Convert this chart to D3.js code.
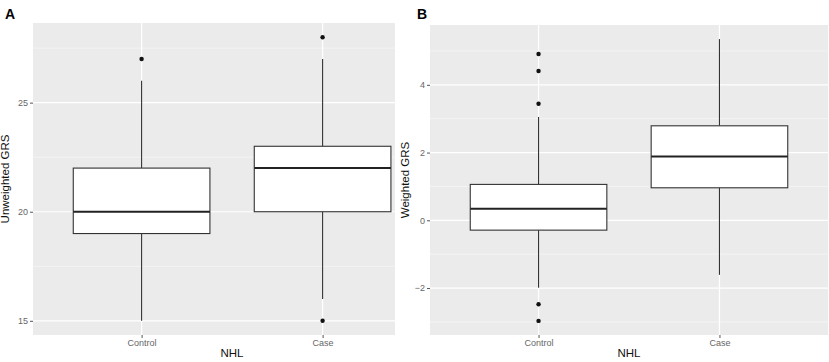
<!DOCTYPE html>
<html>
<head>
<meta charset="utf-8">
<script src="https://cdn.jsdelivr.net/npm/d3@7"></script>
<style>
  body { margin: 0; background: #fff; }
  svg { display: block; font-family: "Liberation Sans", Arial, sans-serif; }
</style>
</head>
<body>
<div id="chart"></div>
<script>
// Data

var groups = ["Control", "Case"];

// panel A: unweighted GRS (min, q1, median, q3, max whisker)
var unweightedStats = [
  [15, 19, 20, 22, 26],
  [16, 20, 22, 23, 27]
];
var unweightedOutliers = [[27], [28, 15]];
var unweightedTicks = [15, 20, 25];

// panel B: weighted GRS
var weightedStats = [
  [-1.99, -0.29, 0.34, 1.06, 3.05],
  [-1.61, 0.96, 1.885, 2.79, 5.35]
];
var weightedOutliers = [[4.91, 4.41, 3.44, -2.48, -2.97], []];
var weightedTicks = [-2, 0, 2, 4];

var w = 829;
var h = 362;

var svg = d3.select("#chart")
  .append("svg")
    .attr("width", w)
    .attr("height", h);

function panel(opt) {
  var g = svg.append("g");

  var xScale = d3.scaleLinear()
    .domain(opt.xdomain)
    .range([opt.left, opt.right]);

  // ggplot style 5% expansion
  var lo = d3.min(opt.stats, d => d[0]);
  var hi = d3.max(opt.stats, d => d[4]);
  opt.outliers.forEach(o => { lo = Math.min(lo, d3.min(o) ?? lo); hi = Math.max(hi, d3.max(o) ?? hi); });
  var pad = (hi - lo) * 0.05;
  var yScale = d3.scaleLinear()
    .domain([lo - pad, hi + pad])
    .range([opt.bottom, opt.top]);

  g.append("rect")
    .attr("x", opt.left)
    .attr("y", opt.top)
    .attr("width", opt.right - opt.left)
    .attr("height", opt.bottom - opt.top)
    .attr("fill", "#ebebeb");

  // minor grid
  var step = opt.ticks[1] - opt.ticks[0];
  var minor = [opt.ticks[0] - step / 2].concat(opt.ticks.map(t => t + step / 2))
    .filter(v => v > yScale.domain()[0] && v < yScale.domain()[1]);
  g.selectAll(".minor")
    .data(minor)
    .enter()
    .append("line")
    .attr("x1", opt.left)
    .attr("x2", opt.right)
    .attr("y1", d => yScale(d))
    .attr("y2", d => yScale(d))
    .attr("stroke", "#fafafa")
    .attr("stroke-width", 0.6);

  g.selectAll(".major")
    .data(opt.ticks)
    .enter()
    .append("line")
    .attr("x1", opt.left)
    .attr("x2", opt.right)
    .attr("y1", d => yScale(d))
    .attr("y2", d => yScale(d))
    .attr("stroke", "#fff")
    .attr("stroke-width", 1.2);

  g.selectAll(".vgrid")
    .data(groups)
    .enter()
    .append("line")
    .attr("x1", (d, i) => xScale(i + 1))
    .attr("x2", (d, i) => xScale(i + 1))
    .attr("y1", opt.top)
    .attr("y2", opt.bottom)
    .attr("stroke", "#fff")
    .attr("stroke-width", 1.2);

  // axes
  var yAxis = d3.axisLeft(yScale)
    .tickValues(opt.ticks)
    .tickSize(3)
    .tickPadding(2);
  var ya = g.append("g")
    .attr("transform", `translate(${opt.left},0)`)
    .call(yAxis);
  ya.select(".domain").remove();
  ya.selectAll("line").attr("stroke", "#555");
  ya.selectAll("text").attr("fill", "#666").attr("font-size", 9);

  var xAxis = d3.axisBottom(xScale)
    .tickValues([1, 2])
    .tickFormat((d, i) => groups[i])
    .tickSize(3)
    .tickPadding(2);
  var xa = g.append("g")
    .attr("transform", `translate(0,${opt.bottom})`)
    .call(xAxis);
  xa.select(".domain").remove();
  xa.selectAll("line").attr("stroke", "#555");
  xa.selectAll("text").attr("fill", "#666").attr("font-size", 9);

  // boxes
  var bw = 0.755;
  var boxes = g.selectAll(".box")
    .data(opt.stats)
    .enter()
    .append("g");

  boxes.append("line")
    .attr("x1", (d, i) => xScale(i + 1))
    .attr("x2", (d, i) => xScale(i + 1))
    .attr("y1", d => yScale(d[0]))
    .attr("y2", d => yScale(d[1]))
    .attr("stroke", "#333")
    .attr("stroke-width", 1.1);

  boxes.append("line")
    .attr("x1", (d, i) => xScale(i + 1))
    .attr("x2", (d, i) => xScale(i + 1))
    .attr("y1", d => yScale(d[3]))
    .attr("y2", d => yScale(d[4]))
    .attr("stroke", "#333")
    .attr("stroke-width", 1.1);

  boxes.append("rect")
    .attr("x", (d, i) => xScale(i + 1 - bw / 2))
    .attr("width", (d, i) => xScale(i + 1 + bw / 2) - xScale(i + 1 - bw / 2))
    .attr("y", d => yScale(d[3]))
    .attr("height", d => yScale(d[1]) - yScale(d[3]))
    .attr("fill", "#fff")
    .attr("stroke", "#333")
    .attr("stroke-width", 1.1);

  boxes.append("line")
    .attr("x1", (d, i) => xScale(i + 1 - bw / 2))
    .attr("x2", (d, i) => xScale(i + 1 + bw / 2))
    .attr("y1", d => yScale(d[2]))
    .attr("y2", d => yScale(d[2]))
    .attr("stroke", "#222")
    .attr("stroke-width", 2);

  opt.outliers.forEach((o, i) => {
    g.selectAll(null)
      .data(o)
      .enter()
      .append("circle")
      .attr("cx", xScale(i + 1))
      .attr("cy", d => yScale(d))
      .attr("r", 2.2)
      .attr("fill", "#111");
  });

  // titles
  g.append("text")
    .attr("x", opt.titleX)
    .attr("y", 357)
    .attr("text-anchor", "middle")
    .attr("font-size", 11.5)
    .attr("fill", "#111")
    .text("NHL");

  g.append("text")
    .attr("transform", `translate(${opt.ylabX},${(opt.top + opt.bottom) / 2}) rotate(-90)`)
    .attr("text-anchor", "middle")
    .attr("font-size", 11.5)
    .attr("fill", "#111")
    .text(opt.ylab);

  g.append("text")
    .attr("x", opt.tagX)
    .attr("y", 19)
    .attr("font-size", 14)
    .attr("font-weight", "bold")
    .attr("fill", "#000")
    .text(opt.tag);
}

panel({
  stats: unweightedStats, outliers: unweightedOutliers, ticks: unweightedTicks,
  xdomain: [0.4, 2.4], left: 33, right: 395, top: 23, bottom: 335,
  ylab: "Unweighted GRS", ylabX: 9, titleX: 232, tag: "A", tagX: 5
});

panel({
  stats: weightedStats, outliers: weightedOutliers, ticks: weightedTicks,
  xdomain: [0.4, 2.6], left: 430, right: 828, top: 25, bottom: 335,
  ylab: "Weighted GRS", ylabX: 409, titleX: 629, tag: "B", tagX: 417
});
</script>
</body>
</html>
